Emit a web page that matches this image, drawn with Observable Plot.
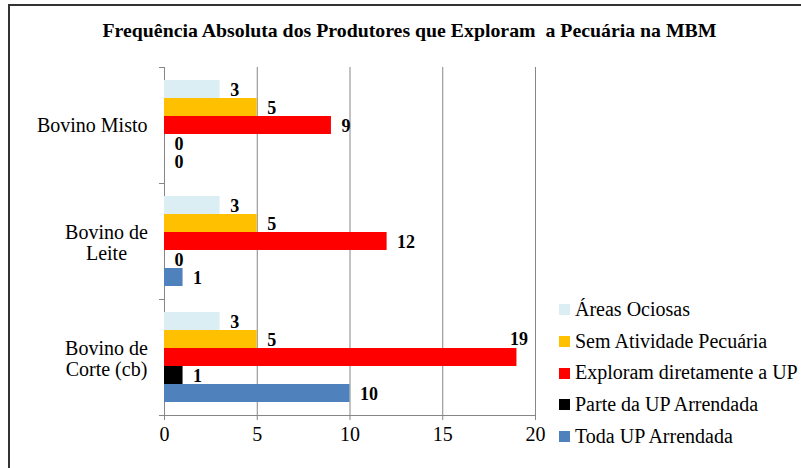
<!DOCTYPE html>
<html>
<head>
<meta charset="utf-8">
<script src="https://cdn.jsdelivr.net/npm/d3@7"></script>
<script src="https://cdn.jsdelivr.net/npm/@observablehq/plot@0.6"></script>
<style>
  html, body { margin: 0; padding: 0; background: #fff; }
  #chart { position: relative; width: 801px; height: 468px; overflow: hidden; background: #fff;
           font-family: "Liberation Serif", "Times New Roman", Times, "DejaVu Serif", serif; }
  #plot { position: absolute; left: 0; top: 0; }
  #border { position: absolute; left: 8px; top: 4px; width: 900px; height: 600px;
            border-left: 2px solid #333; border-top: 2px solid #333; pointer-events: none; }
  #title { position: absolute; left: 0; top: 20px; width: 820px; text-align: center;
           font-weight: bold; font-size: 19px; white-space: pre; }
  #title span { display: inline-block; transform-origin: center; }
  #legend { position: absolute; left: 559px; top: 294px; font-size: 20px; line-height: 31.7px; }
  #legend .row { display: flex; align-items: center; white-space: nowrap; }
  #legend .sw { width: 11px; height: 11px; margin-right: 5px; flex: none; }
</style>
</head>
<body>
<div id="chart">
  <div id="plot"></div>
  <div id="title"><span>Frequência Absoluta dos Produtores que Exploram  a Pecuária na MBM</span></div>
  <div id="legend"></div>
  <div id="border"></div>
</div>
<script>
const categories = ["Bovino Misto", "Bovino de Leite", "Bovino de Corte (cb)"];
const categoryLabels = ["Bovino Misto", "Bovino de\nLeite", "Bovino de\nCorte (cb)"];
const series = ["Áreas Ociosas", "Sem Atividade Pecuária", "Exploram diretamente a UP", "Parte da UP Arrendada", "Toda UP Arrendada"];
const colors = ["#dbeef4", "#ffc000", "#ff0000", "#000000", "#4f81bd"];
const areasOciosas = [3, 3, 3];
const semAtividade = [5, 5, 5];
const exploram = [9, 12, 19];
const parteArrendada = [0, 0, 1];
const todaArrendada = [0, 1, 10];
const xTicks = [0, 5, 10, 15, 20];
const xGrid = [5, 10, 15, 20];

const valuesBySeries = [areasOciosas, semAtividade, exploram, parteArrendada, todaArrendada];
const data = [];
categories.forEach((c, i) => series.forEach((s, j) => data.push({category: c, series: s, value: valuesBySeries[j][i]})));
const labelOf = Object.fromEntries(categories.map((c, i) => [c, categoryLabels[i]]));
const axisColor = "#868686";
const serif = "'Liberation Serif', 'Times New Roman', Times, 'DejaVu Serif', serif";

const chart = Plot.plot({
  width: 801,
  height: 468,
  marginLeft: 164,
  marginRight: 266,
  marginTop: 66,
  marginBottom: 52,
  style: {fontFamily: serif, fontSize: "20px", background: "transparent", color: "#000"},
  x: {domain: [0, 20], axis: null},
  y: {domain: series, paddingInner: 0, paddingOuter: 0.72, axis: null},
  fy: {domain: categories, padding: 0, axis: null},
  color: {domain: series, range: colors},
  marks: [
    Plot.ruleX(xGrid, {stroke: axisColor, strokeWidth: 1}),
    Plot.frame({anchor: "left", stroke: axisColor}),
    Plot.frame({anchor: "top", stroke: axisColor, insetLeft: -5, insetRight: 371}),
    Plot.frame({anchor: "bottom", stroke: axisColor, facetAnchor: "bottom"}),
    Plot.frame({anchor: "bottom", stroke: axisColor, insetLeft: -5, insetRight: 371}),
    Plot.barX(data, {x: "value", y: "series", fy: "category", fill: "series"}),
    Plot.text(data.filter(d => d.value < 18), {
      x: "value", y: "series", fy: "category", text: d => String(d.value),
      textAnchor: "start", dx: 10, dy: 1, fontWeight: "bold", fontSize: 18, fill: "#000", fontFamily: serif
    }),
    Plot.text(data.filter(d => d.value >= 18), {
      x: "value", y: "series", fy: "category", text: d => String(d.value),
      textAnchor: "middle", dx: 2, dy: -18, fontWeight: "bold", fontSize: 18, fill: "#000", fontFamily: serif
    }),
    Plot.text(categories.filter(c => !labelOf[c].includes("\n")), {
      fy: d => d, text: d => labelOf[d], frameAnchor: "left", textAnchor: "end", dx: -17, fontSize: 20, fill: "#000", fontFamily: serif
    }),
    Plot.text(categories.filter(c => labelOf[c].includes("\n")), {
      fy: d => d, text: d => labelOf[d], frameAnchor: "left", textAnchor: "middle", dx: -58, dy: 1, lineHeight: 1.08, fontSize: 20, fill: "#000", fontFamily: serif
    }),
    Plot.axisX({ticks: xTicks, tickSize: 5, tickPadding: 6, stroke: axisColor, fill: "#000", fontSize: 20, fontFamily: serif, label: null, tickFormat: d => String(d)})
  ]
});
document.getElementById("plot").appendChild(chart);

const legend = document.getElementById("legend");
series.forEach((s, i) => {
  const row = document.createElement("div");
  row.className = "row";
  const sw = document.createElement("span");
  sw.className = "sw";
  sw.style.background = colors[i];
  const t = document.createElement("span");
  t.textContent = s;
  row.appendChild(sw);
  row.appendChild(t);
  legend.appendChild(row);
});

// fit title width to the reference span
const span = document.querySelector("#title span");
const w = span.getBoundingClientRect().width;
span.style.transform = `scaleX(${614 / w})`;
</script>
</body>
</html>
